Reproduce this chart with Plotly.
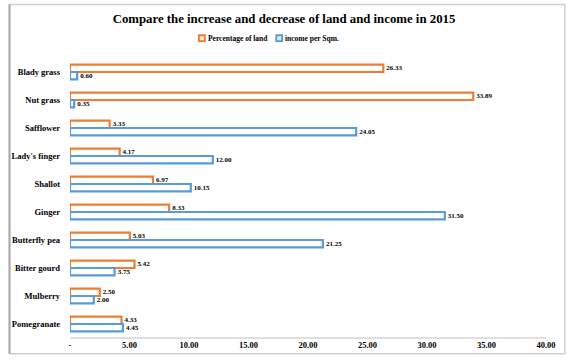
import plotly.graph_objects as go

crops = ["Blady grass", "Nut grass", "Safflower", "Lady's finger", "Shallot",
         "Ginger", "Butterfly pea", "Bitter gourd", "Mulberry", "Pomegranate"]
land_pct = [26.33, 33.89, 3.33, 4.17, 6.97, 8.33, 5.03, 5.42, 2.50, 4.33]
income_sqm = [0.60, 0.35, 24.05, 12.00, 10.15, 31.50, 21.25, 3.75, 2.00, 4.45]
series_names = ["Percentage of land", "income per Sqm."]
tick_vals = [0, 5, 10, 15, 20, 25, 30, 35, 40]
tick_text = ["-", "5.00", "10.00", "15.00", "20.00", "25.00", "30.00", "35.00", "40.00"]

ORANGE = "#ED7D31"
BLUE = "#5B9BD5"
SERIF = "Liberation Serif"

W, H = 568, 362
ML, MR, MT, MB = 66, 22, 58, 21
PW, PH = W - ML - MR, H - MT - MB


def px_x(px):
    return (px - ML) / PW


def px_y(py):
    return 1 - (py - MT) / PH


fig = go.Figure()
for name, vals, col in zip(series_names, [land_pct, income_sqm], [ORANGE, BLUE]):
    fig.add_trace(go.Bar(
        y=crops, x=vals, name=name, orientation="h", showlegend=False,
        marker=dict(color="white", line=dict(color=col, width=2.2)),
        text=[f"{v:.2f}" for v in vals], textposition="outside",
        constraintext="none",
        textfont=dict(family=SERIF, size=7, color="black", weight="bold"),
        cliponaxis=False,
    ))

# compact legend: small keyed squares followed by their labels
shapes = []
annotations = []
legend_y = 38
for (sq_x, label), col, fill in zip([(196, series_names[0]), (274, series_names[1])],
                                    [ORANGE, BLUE], ["#FBE3D2", "#DCEAF6"]):
    shapes.append(dict(type="rect", xref="paper", yref="paper",
                       x0=px_x(sq_x), x1=px_x(sq_x + 6),
                       y0=px_y(legend_y + 3), y1=px_y(legend_y - 3),
                       fillcolor=fill, line=dict(color=col, width=1.8)))
    annotations.append(dict(x=px_x(sq_x + 7), y=px_y(legend_y), xref="paper", yref="paper",
                            text=f"<b>{label}</b>", showarrow=False,
                            xanchor="left", yanchor="middle",
                            font=dict(family=SERIF, size=7.5, color="black")))

# bottom axis rule
shapes.append(dict(type="line", xref="paper", yref="paper", x0=0, x1=1, y0=0, y1=0,
                   line=dict(color="#BFBFBF", width=1)))
# chart frame
shapes.append(dict(type="rect", xref="paper", yref="paper",
                   x0=px_x(5), x1=px_x(565), y0=px_y(357), y1=px_y(4),
                   line=dict(color="#CFCFCF", width=1.5)))
shapes.append(dict(type="line", xref="paper", yref="paper",
                   x0=px_x(5), x1=px_x(5), y0=px_y(357), y1=px_y(4),
                   line=dict(color="#A8A8A8", width=2)))

fig.update_layout(
    width=W, height=H,
    margin=dict(l=ML, r=MR, t=MT, b=MB),
    paper_bgcolor="white", plot_bgcolor="white",
    barmode="group", bargap=0.47, bargroupgap=0.0,
    showlegend=False,
    title=dict(text="<b>Compare the increase and decrease of land and income in 2015</b>",
               x=0.5, xanchor="center", y=1 - 19 / H, yanchor="middle",
               font=dict(family=SERIF, size=12.8, color="black")),
    font=dict(family=SERIF, color="black"),
    xaxis=dict(range=[0, 40], tickvals=tick_vals, ticktext=tick_text,
               showgrid=False, zeroline=False, showline=False,
               tickfont=dict(family=SERIF, size=8.5, color="black", weight="bold"), ticks=""),
    yaxis=dict(autorange="reversed", showgrid=False, zeroline=False,
               showline=False, ticks="", ticklen=0, ticklabelstandoff=9,
               tickfont=dict(family=SERIF, size=8.5, color="black", weight="bold")),
    shapes=shapes,
    annotations=annotations,
)

fig.write_html("out.html")
